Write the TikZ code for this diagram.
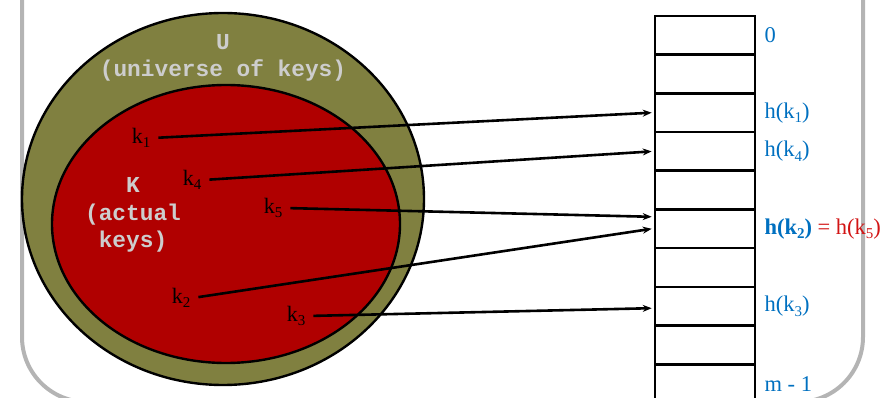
\documentclass[tikz,border=0pt]{standalone}
\usepackage{fontspec}
\setmainfont{Liberation Serif}
\setmonofont{Liberation Mono}
\usetikzlibrary{arrows.meta}

\definecolor{keyolive}{RGB}{128,128,64}
\definecolor{keyred}{RGB}{176,0,0}
\definecolor{idxblue}{RGB}{0,112,192}
\definecolor{eqred}{RGB}{210,20,20}
\definecolor{framegray}{RGB}{180,180,180}
\definecolor{setgray}{RGB}{205,205,205}

% lowered subscript in text font
\newcommand{\ix}[1]{\raisebox{-0.45ex}{\fontsize{15}{15}\selectfont #1}}

\tikzset{
  slot/.style={draw, line width=2.6pt, minimum width=100pt, minimum height=38.7pt, inner sep=0pt},
  idx/.style={anchor=west, text=idxblue, inner sep=1pt, font=\fontsize{22.5}{26}\selectfont},
  key/.style={inner sep=2pt, font=\fontsize{22}{26}\selectfont},
  setlabel/.style={align=center, text=setgray, font=\ttfamily\bfseries\fontsize{22.8}{27.5}\selectfont},
  hasharrow/.style={line width=2.6pt, shorten <=6pt, -{Stealth[length=9pt,width=7pt]}}
}

\begin{document}
\begin{tikzpicture}[x=1pt, y=-1pt]
  \useasboundingbox (0,0) rectangle (892,398);
  % frame
  \draw[framegray, line width=4pt, rounded corners=65pt] (22,-80) rectangle (863,402);

  % universe and actual keys
  \draw[fill=keyolive, line width=2.4pt] (223,199) ellipse [x radius=201, y radius=186];
  \draw[fill=keyred, line width=2.4pt] (226,224) ellipse [x radius=174, y radius=139];
  \node[setlabel] (U) at (223,58) {U\\(universe of keys)};
  \node[setlabel] (K) at (133,215) {K\\(actual\\keys)};

  \node[key] (k1) at (141,138) {k\ix{1}};
  \node[key] (k4) at (192,180) {k\ix{4}};
  \node[key] (k5) at (273,208) {k\ix{5}};
  \node[key] (k2) at (181,298) {k\ix{2}};
  \node[key] (k3) at (296,316) {k\ix{3}};

  % table T[0..m-1]
  \foreach \i in {0,...,9}
    \node[slot] (s\i) at (705,{35.3+38.7*\i}) {};

  \node[idx] at ([xshift=7pt]s0.east) {0};
  \node[idx] at ([xshift=7pt]s2.east) {h(k\ix{1})};
  \node[idx] at ([xshift=7pt]s3.east) {h(k\ix{4})};
  \node[idx] at ([xshift=7pt]s5.east) {\textbf{h(k\ix{2})}\textcolor{eqred}{\ = h(k\ix{5})}};
  \node[idx] at ([xshift=7pt]s7.east) {h(k\ix{3})};
  \node[idx] at ([xshift=7pt]s9.east) {m - 1};

  \draw[hasharrow] (k1.east) -- ([xshift=-2pt]s2.west);
  \draw[hasharrow] (k4.east) -- ([xshift=-2pt]s3.west);
  \draw[hasharrow] (k5.east) -- ([xshift=-2pt, yshift=12pt]s5.west);
  \draw[hasharrow] (k2.east) -- ([xshift=-2pt]s5.west);
  \draw[hasharrow] (k3.east) -- ([xshift=-2pt, yshift=-2pt]s7.west);
\end{tikzpicture}
\end{document}
